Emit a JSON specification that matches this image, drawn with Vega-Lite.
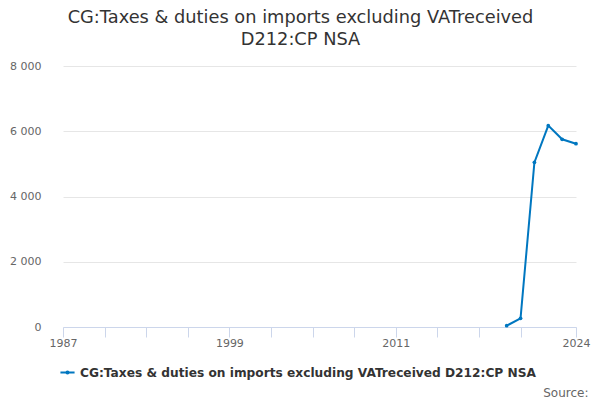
{
  "$schema": "https://vega.github.io/schema/vega-lite/v6.json",
  "autosize": {"type": "none"},
  "width": 527,
  "height": 261,
  "padding": {"left": 57, "top": 66, "right": 16, "bottom": 73},
  "background": "white",
  "config": {
    "font": "DejaVu Sans",
    "view": {"stroke": null}
  },
  "title": {
    "text": ["CG:Taxes & duties on imports excluding VATreceived", "D212:CP NSA"],
    "fontSize": 17.8,
    "fontWeight": "normal",
    "color": "#333333",
    "anchor": "middle",
    "dx": -20,
    "offset": 11,
    "lineHeight": 22
  },
  "data": {
    "values": [
      {"year": 2019, "value": 40, "series": "CG:Taxes & duties on imports excluding VATreceived D212:CP NSA"},
      {"year": 2020, "value": 265, "series": "CG:Taxes & duties on imports excluding VATreceived D212:CP NSA"},
      {"year": 2021, "value": 5046, "series": "CG:Taxes & duties on imports excluding VATreceived D212:CP NSA"},
      {"year": 2022, "value": 6172, "series": "CG:Taxes & duties on imports excluding VATreceived D212:CP NSA"},
      {"year": 2023, "value": 5754, "series": "CG:Taxes & duties on imports excluding VATreceived D212:CP NSA"},
      {"year": 2024, "value": 5618, "series": "CG:Taxes & duties on imports excluding VATreceived D212:CP NSA"}
    ]
  },
  "mark": {
    "type": "line",
    "strokeWidth": 2,
    "point": {"size": 14, "filled": true}
  },
  "encoding": {
    "x": {
      "field": "year",
      "type": "quantitative",
      "scale": {"domain": [1987, 2024], "range": [6, 519], "nice": false, "zero": false},
      "axis": {
        "title": "Source:",
        "titleFontSize": 12,
        "titleFontWeight": "normal",
        "titleColor": "#666666",
        "titleAnchor": "end",
        "titleAlign": "right",
        "titleBaseline": "alphabetic",
        "titleX": 531,
        "titleY": 69,
        "values": [1987, 1990, 1993, 1996, 1999, 2002, 2005, 2008, 2011, 2014, 2017, 2020, 2024],
        "labelExpr": "indexof([1987, 1999, 2011, 2024], datum.value) >= 0 ? format(datum.value, 'd') : ''",
        "labelOverlap": false,
        "labelFlush": false,
        "labelFontSize": 11,
        "labelColor": "#666666",
        "labelPadding": 0,
        "grid": false,
        "domainColor": "#ccd6eb",
        "tickColor": "#ccd6eb",
        "tickSize": 10
      }
    },
    "y": {
      "field": "value",
      "type": "quantitative",
      "scale": {"domain": [0, 8000], "nice": false},
      "axis": {
        "title": null,
        "values": [0, 2000, 4000, 6000, 8000],
        "labelExpr": "replace(format(datum.value, ','), ',', ' ')",
        "labelFontSize": 11,
        "labelColor": "#666666",
        "labelPadding": 16,
        "ticks": false,
        "domain": false,
        "gridColor": "#e6e6e6"
      }
    },
    "color": {
      "field": "series",
      "type": "nominal",
      "scale": {"range": ["#0077c0"]},
      "legend": {
        "title": null,
        "orient": "none",
        "legendX": 2,
        "legendY": 298,
        "labelFontSize": 12.2,
        "labelFontWeight": "bold",
        "labelColor": "#333333",
        "labelLimit": 600,
        "symbolType": "M-1,0L1,0M-0.15,0A0.15,0.15,0,1,0,0.15,0A0.15,0.15,0,1,0,-0.15,0Z",
        "symbolStrokeWidth": 2,
        "symbolFillColor": "#0077c0",
        "symbolSize": 200
      }
    }
  }
}
